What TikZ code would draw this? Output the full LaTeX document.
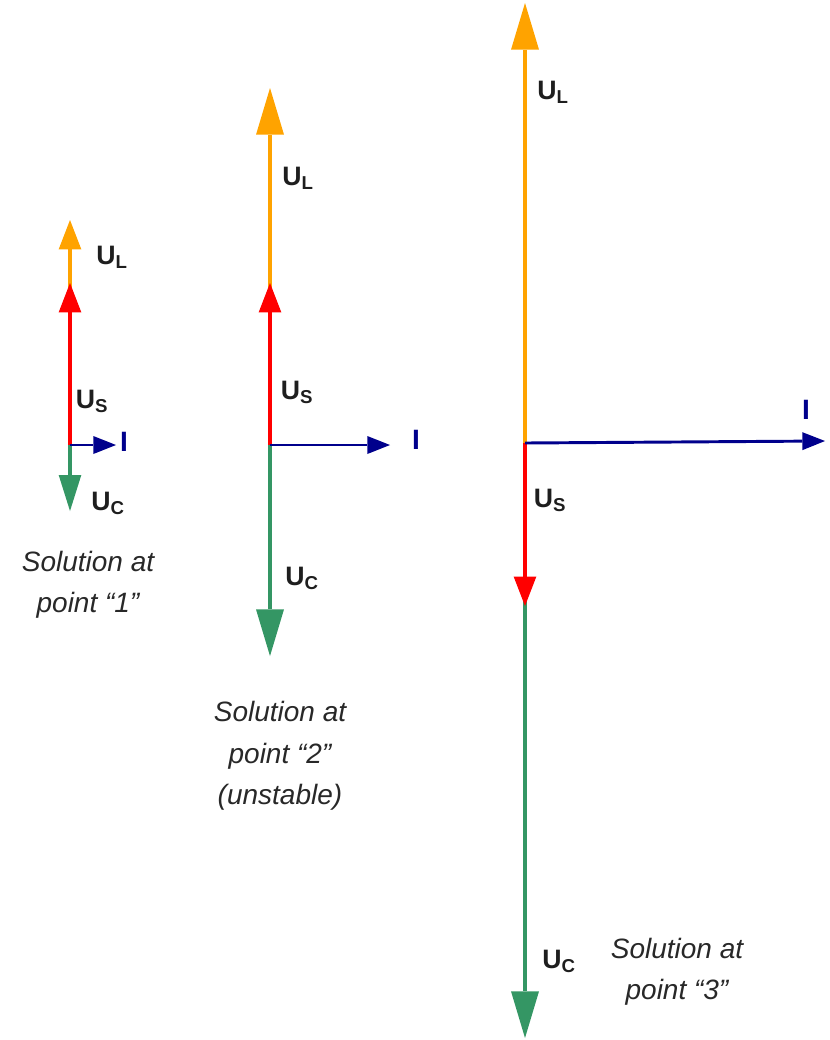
\documentclass[tikz,border=0pt]{standalone}
\usepackage{fontspec}
\setmainfont{Liberation Sans}
\usetikzlibrary{
  arrows.meta
}
\definecolor{ulcolor}{RGB}{255,163,0}
\definecolor{uscolor}{RGB}{255,0,0}
\definecolor{uccolor}{RGB}{52,150,100}
\definecolor{icolor}{RGB}{0,0,140}
\definecolor{labelcolor}{RGB}{30,30,30}
\definecolor{captioncolor}{RGB}{40,40,40}
\tikzset{
  ulvec/.style={
    draw=ulcolor,
    line width=3pt
  },
  usvec/.style={
    draw=uscolor,
    line width=3.6pt
  },
  ucvec/.style={
    draw=uccolor,
    line width=2.8pt
  },
  ivec/.style={
    draw=icolor,
    line width=2.2pt,
    -{Triangle[length=17pt,width=13.5pt,line width=0pt]}
  },
  smallhead/.style={
    -{Triangle[length=22pt,width=17pt,line width=0pt]}
  },
  midhead/.style={
    -{Triangle[length=27pt,width=17pt,line width=0pt]}
  },
  bighead/.style={
    -{Triangle[length=35pt,width=21pt,line width=0pt]}
  },
  vlabel/.style={
    font=\fontsize{20}{24}\selectfont\bfseries,
    text=labelcolor,
    inner sep=0pt
  },
  ilabel/.style={
    font=\fontsize{21}{24}\selectfont\bfseries,
    text=icolor,
    inner sep=0pt
  },
  caption/.style={
    font=\fontsize{21}{31}\selectfont\itshape,
    text=captioncolor,
    align=center,
    inner sep=0pt
  }
}

\begin{document}
\begin{tikzpicture}[x=0.75pt, y=-0.75pt]

  \useasboundingbox (0,0) rectangle (830,1040);

  % Point 1
  \coordinate (o1) at (70,445);
  \coordinate (l1) at (70,220);
  \coordinate (s1) at (70,283);
  \coordinate (c1) at (70,511);
  \coordinate (i1) at (116,445);

  \draw[ulvec, smallhead] (o1) -- (l1);
  \draw[usvec, smallhead] (o1) -- (s1);
  \draw[ucvec, midhead] (o1) -- (c1);
  \draw[ivec] (o1) -- (i1);

  \node[vlabel] (ul1) at (112,257) {U\textsubscript{L}};
  \node[vlabel] (us1) at (92,401) {U\textsubscript{S}};
  \node[vlabel] (uc1) at (108,503) {U\textsubscript{C}};
  \node[ilabel] (il1) at (124,442) {I};
  \node[caption] (sol1) at (88,585) {Solution at\\point “1”};

  % Point 2 (unstable)
  \coordinate (o2) at (270,445);
  \coordinate (l2) at (270,88);
  \coordinate (s2) at (270,283);
  \coordinate (c2) at (270,656);
  \coordinate (i2) at (390,445);

  \draw[ulvec, bighead] (o2) -- (l2);
  \draw[usvec, smallhead] (o2) -- (s2);
  \draw[ucvec, bighead] (o2) -- (c2);
  \draw[ivec] (o2) -- (i2);

  \node[vlabel] (ul2) at (298,178) {U\textsubscript{L}};
  \node[vlabel] (us2) at (297,392) {U\textsubscript{S}};
  \node[vlabel] (uc2) at (302,578) {U\textsubscript{C}};
  \node[ilabel] (il2) at (416,440) {I};
  \node[caption] (sol2) at (280,756) {Solution at\\point “2”\\(unstable)};

  % Point 3
  \coordinate (o3) at (525,443);
  \coordinate (l3) at (525,3);
  \coordinate (s3) at (525,606);
  \coordinate (c3) at (525,1038);
  \coordinate (i3) at (825,441);

  \draw[ulvec, bighead] (o3) -- (l3);
  \draw[ucvec, bighead] (o3) -- (c3);
  \draw[usvec, smallhead] (o3) -- (s3);
  \draw[ivec] (o3) -- (i3);

  \node[vlabel] (ul3) at (553,92) {U\textsubscript{L}};
  \node[vlabel] (us3) at (550,500) {U\textsubscript{S}};
  \node[vlabel] (uc3) at (559,961) {U\textsubscript{C}};
  \node[ilabel] (il3) at (806,410) {I};
  \node[caption] (sol3) at (677,972) {Solution at\\point “3”};

\end{tikzpicture}
\end{document}
